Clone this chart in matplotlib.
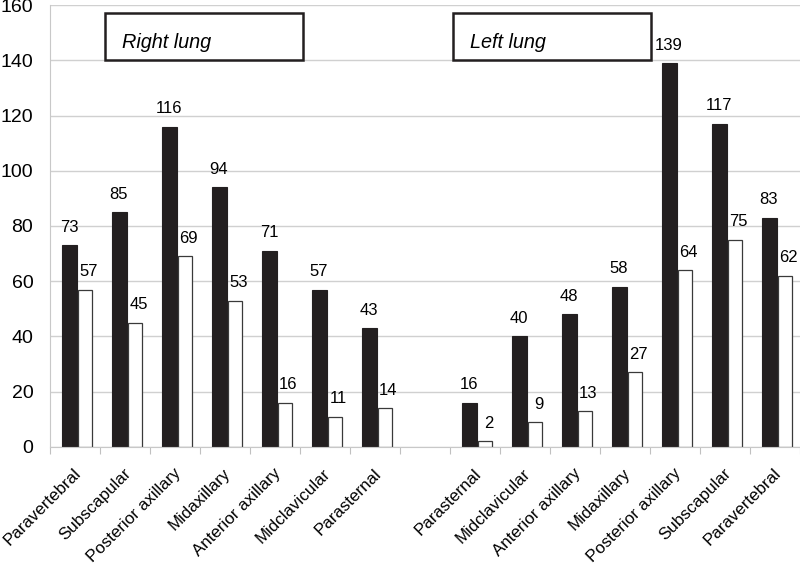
import matplotlib.pyplot as plt
from matplotlib.patches import Rectangle
import numpy as np

plt.rcParams['font.family'] = ['Liberation Sans', 'DejaVu Sans']

# --- data ---
categories = ['Paravertebral', 'Subscapular', 'Posterior axillary', 'Midaxillary',
              'Anterior axillary', 'Midclavicular', 'Parasternal', '',
              'Parasternal', 'Midclavicular', 'Anterior axillary', 'Midaxillary',
              'Posterior axillary', 'Subscapular', 'Paravertebral']
black_vals = [73, 85, 116, 94, 71, 57, 43, None, 16, 40, 48, 58, 139, 117, 83]
white_vals = [57, 45, 69, 53, 16, 11, 14, None, 2, 9, 13, 27, 64, 75, 62]
group_titles = ['Right lung', 'Left lung']

fig = plt.figure(figsize=(8, 5.65), dpi=100)
ax = fig.add_axes([0.0625, 0.209, 0.9375, 0.782])

x = np.arange(len(categories))
w = 0.3
for i, (b, wv) in enumerate(zip(black_vals, white_vals)):
    if b is None:
        continue
    ax.bar(x[i] - 0.11, b, w, color='#231f20', edgecolor='#231f20', linewidth=0.8)
    ax.bar(x[i] + 0.19, wv, w - 0.02, color='white', edgecolor='#3a3a3a', linewidth=0.9)
    ax.text(x[i] - 0.12, b + 3.8, str(b), ha='center', va='bottom', fontsize=12)
    ax.text(x[i] + 0.27, wv + 3.8, str(wv), ha='center', va='bottom', fontsize=12)

ax.set_xlim(-0.5, len(categories) - 0.5)
ax.set_ylim(0, 160)
ax.set_yticks(range(0, 161, 20))
ax.tick_params(axis='y', length=0, labelsize=14, pad=12)
ax.yaxis.grid(True, color='#d0d0d0', linewidth=1)
ax.set_axisbelow(True)

ax.set_xticks(np.arange(len(categories) + 1) - 0.5, minor=False)
ax.set_xticklabels([])
ax.tick_params(axis='x', length=5, color='#c0c0c0', direction='out')
for i, c in enumerate(categories):
    ax.text(x[i] - 0.04, -6.8, c, rotation=45, ha='right', va='top',
            rotation_mode='anchor', fontsize=12.2, transform=ax.transData)

for s in ['top', 'right']:
    ax.spines[s].set_visible(False)
ax.spines['left'].set_color('#c8c8c8')
ax.spines['bottom'].set_color('#c8c8c8')

# group title boxes
for x0, title in zip([0.59, 7.55], group_titles):
    ax.add_patch(Rectangle((x0, 140.2), 3.96, 16.8, fill=False, edgecolor='#231f20',
                           linewidth=1.8, clip_on=False))
    ax.text(x0 + 0.36, 144.4, title, style='italic', fontsize=14.3, va='baseline', ha='left')

plt.savefig('out.png', dpi=100)
